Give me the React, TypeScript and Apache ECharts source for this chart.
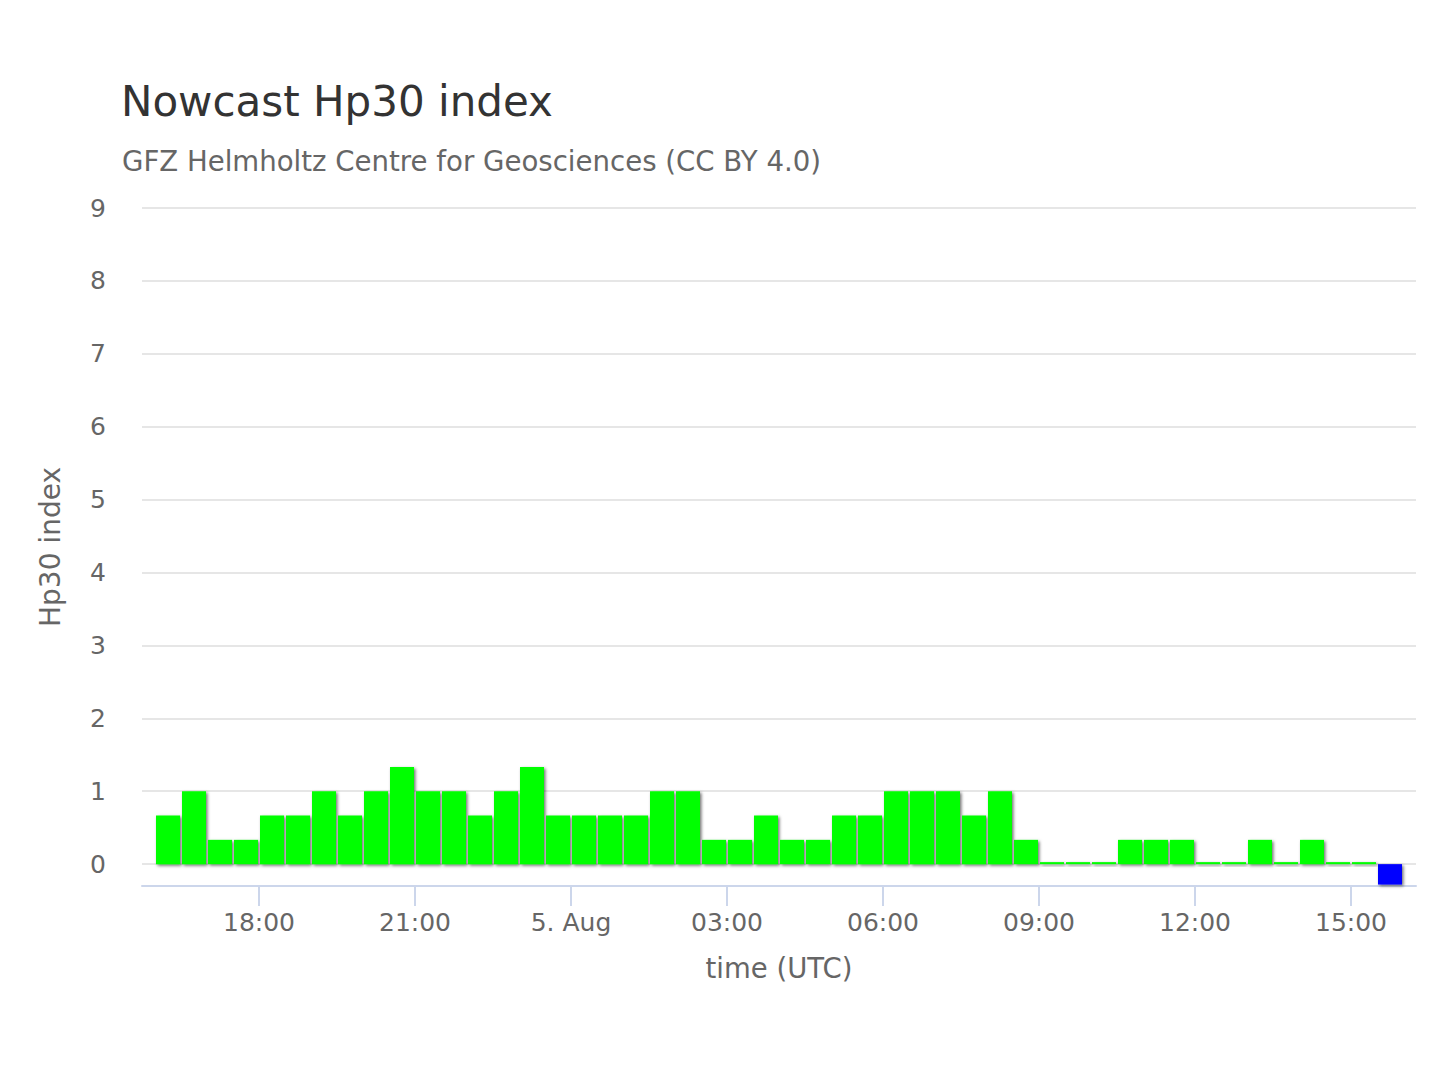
import React, { useEffect, useRef } from "react";
import * as echarts from "echarts";

const chartTitle = "Nowcast Hp30 index";
const chartSubtitle = "GFZ Helmholtz Centre for Geosciences (CC BY 4.0)";
const xAxisName = "time (UTC)";
const yAxisName = "Hp30 index";

// Start of first 30-minute interval (UTC)
const startTime = Date.UTC(2024, 7, 4, 16, 0);
const stepMs = 30 * 60 * 1000;
const monthNames = ["Jan", "Feb", "Mar", "Apr", "May", "Jun", "Jul", "Aug", "Sep", "Oct", "Nov", "Dec"];

// Tick times on the x axis (UTC)
const xTickTimes = [
  Date.UTC(2024, 7, 4, 18, 0),
  Date.UTC(2024, 7, 4, 21, 0),
  Date.UTC(2024, 7, 5, 0, 0),
  Date.UTC(2024, 7, 5, 3, 0),
  Date.UTC(2024, 7, 5, 6, 0),
  Date.UTC(2024, 7, 5, 9, 0),
  Date.UTC(2024, 7, 5, 12, 0),
  Date.UTC(2024, 7, 5, 15, 0),
];

// Hp30 values per 30-min interval (last entry: pending nowcast marker)
const hp30Values = [
  0.667, 1, 0.333, 0.333, 0.667, 0.667, 1, 0.667, 1, 1.333,
  1, 1, 0.667, 1, 1.333, 0.667, 0.667, 0.667, 0.667, 1,
  1, 0.333, 0.333, 0.667, 0.333, 0.333, 0.667, 0.667, 1, 1,
  1, 0.667, 1, 0.333, 0, 0, 0, 0.333, 0.333, 0.333,
  0, 0, 0.333, 0, 0.333, 0, 0, -0.28,
];

const yMin = -0.3;
const yMax = 9;

export default function App() {
  const ref = useRef<HTMLDivElement>(null);
  useEffect(() => {
    document.body.style.margin = "0";
    if (!ref.current) return;
    const chart = echarts.init(ref.current, undefined, { renderer: "svg" });
    const font = "DejaVu Sans";
    const data = hp30Values.map((v, i) => ({
      value: [startTime + i * stepMs + stepMs / 2, v],
      itemStyle: { color: v < 0 ? "#0000ff" : "#00ff00" },
    }));
    const pad = (n: number) => (n < 10 ? "0" + n : "" + n);
    chart.setOption({
      animation: false,
      backgroundColor: "#ffffff",
      textStyle: { fontFamily: font },
      title: [
        {
          text: chartTitle,
          left: 116,
          top: 75,
          textStyle: { fontFamily: font, fontSize: 42, fontWeight: "normal", color: "#333333" },
        },
        {
          text: chartSubtitle,
          left: 117,
          top: 142,
          textStyle: { fontFamily: font, fontSize: 27.6, fontWeight: "normal", color: "#666666" },
        },
      ],
      grid: { left: 142, right: 24, top: 208, bottom: 194, containLabel: false },
      xAxis: {
        type: "value",
        min: startTime - stepMs / 2,
        max: startTime + 48 * stepMs + stepMs / 2,
        name: xAxisName,
        nameLocation: "middle",
        nameGap: 68,
        nameTextStyle: { fontFamily: font, fontSize: 27.5, color: "#666666" },
        axisLine: { onZero: false, lineStyle: { color: "#ccd6eb", width: 2 } },
        axisTick: {
          show: true,
          customValues: xTickTimes,
          length: 20,
          lineStyle: { color: "#ccd6eb", width: 2 },
        },
        splitLine: { show: false },
        axisLabel: {
          customValues: xTickTimes,
          margin: 24,
          fontFamily: font,
          fontSize: 25,
          color: "#666666",
          formatter: (val: number) => {
            const d = new Date(val);
            if (d.getUTCHours() === 0 && d.getUTCMinutes() === 0) {
              return d.getUTCDate() + ". " + monthNames[d.getUTCMonth()];
            }
            return pad(d.getUTCHours()) + ":" + pad(d.getUTCMinutes());
          },
        },
      },
      yAxis: {
        type: "value",
        min: yMin,
        max: yMax,
        splitNumber: 9,
        minInterval: 1,
        maxInterval: 1,
        name: yAxisName,
        nameLocation: "middle",
        nameGap: 78,
        nameRotate: 90,
        nameTextStyle: { fontFamily: font, fontSize: 28, color: "#666666" },
        axisLine: { show: false },
        axisTick: { show: false },
        axisLabel: {
          margin: 36,
          showMinLabel: false,
          fontFamily: font,
          fontSize: 25,
          color: "#666666",
        },
        splitLine: { show: true, showMinLine: false, lineStyle: { color: "#e6e6e6", width: 2 } },
      },
      series: [
        {
          type: "bar",
          data,
          barWidth: 24,
          barMinHeight: 2,
          itemStyle: {
            shadowBlur: 3,
            shadowColor: "rgba(0,0,0,0.55)",
            shadowOffsetX: 1.5,
            shadowOffsetY: 1.5,
          },
        },
      ],
    });
    return () => chart.dispose();
  }, []);
  return <div ref={ref} style={{ position: "absolute", left: 0, top: 0, width: 1440, height: 1080 }} />;
}
